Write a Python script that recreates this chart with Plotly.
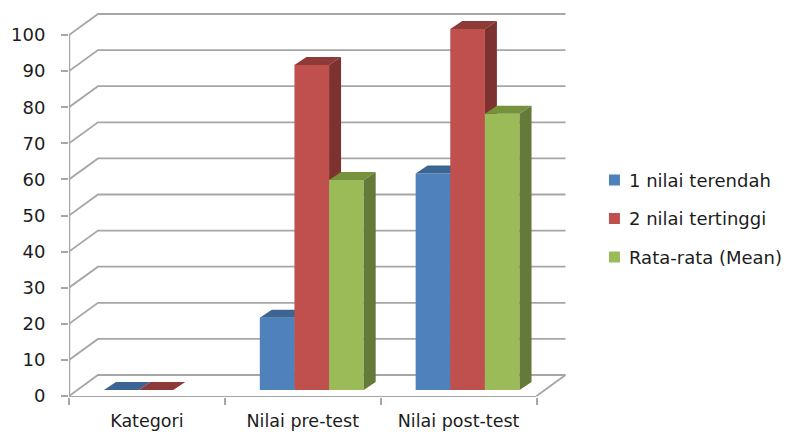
import plotly.graph_objects as go

# Chart data
categories = ["Kategori", "Nilai pre-test", "Nilai post-test"]
series_names = ["1 nilai terendah", "2 nilai tertinggi", "Rata-rata (Mean)"]
nilai_terendah = [0, 20, 60]
nilai_tertinggi = [0, 90, 100]
rata_rata = [None, 58.2, 76.5]
y_ticks = list(range(0, 101, 10))

# Face colours: front, top and side of each column
FRONT = ["#4f81bd", "#c0504d", "#9bbb59"]
TOP = ["#3c6594", "#8e3a38", "#76923c"]
SIDE = ["#385d8a", "#7d3230", "#657a38"]
GRID = "#a6a6a6"
TEXT = "#1c1c1c"
FONT = "DejaVu Sans"

# Plot box and scale, in screen pixels per data unit
WIDTH, HEIGHT = 787, 432
LEFT, RIGHT, TOP_PX, BOTTOM = 68.5, 569.0, 13.0, 397.0
ZERO_PX = 396.0
PX_PER_CAT = 156.0
PX_PER_VAL = 3.61
X_RANGE = [-0.5, -0.5 + (RIGHT - LEFT) / PX_PER_CAT]
Y_RANGE = [(ZERO_PX - BOTTOM) / PX_PER_VAL, (ZERO_PX - TOP_PX) / PX_PER_VAL]


def dx(px):
    return px / PX_PER_CAT


def dy(px):
    return px / PX_PER_VAL


# Oblique projection of the chart box and columns
WALL_DX, WALL_DY = dx(29), dy(21)
BASE_DX, BASE_DY = dx(9), dy(6)
DEPTH_DX, DEPTH_DY = dx(12), dy(8)
BAR_W = 1 / 4.5
X_FRONT_END = 2.5

fig = go.Figure()


def add_line(xs, ys, width):
    fig.add_trace(go.Scatter(x=xs, y=ys, mode="lines", line=dict(color=GRID, width=width),
                             showlegend=False, hoverinfo="skip", cliponaxis=False))


# Back wall and side gridlines
for v in y_ticks:
    add_line([-0.5, -0.5 + WALL_DX, X_FRONT_END + WALL_DX], [v, v + WALL_DY, v + WALL_DY], 1.8)

# Floor edge at the right and the two front axis lines
add_line([X_FRONT_END, X_FRONT_END + WALL_DX], [0, WALL_DY], 1.8)
add_line([-0.5, X_FRONT_END], [Y_RANGE[0], Y_RANGE[0]], 2)
add_line([-0.5, -0.5], [Y_RANGE[0], 100], 2.4)

# One overlaid axis pair per series so that each series paints over the previous one
all_values = [nilai_terendah, nilai_tertinggi, rata_rata]
for s, values in enumerate(all_values):
    ax_id = s + 2
    xname, yname = f"x{ax_id}", f"y{ax_id}"
    fig.update_layout({
        f"xaxis{ax_id}": dict(overlaying="x", range=X_RANGE, visible=False, fixedrange=True),
        f"yaxis{ax_id}": dict(overlaying="y", range=Y_RANGE, visible=False, fixedrange=True),
    })
    xs = [i + BASE_DX + (s - 1) * BAR_W for i in range(len(categories))]
    fig.add_trace(go.Bar(
        x=xs, y=values, base=BASE_DY, width=BAR_W, name=series_names[s],
        marker=dict(color=FRONT[s], line=dict(width=0)),
        xaxis=xname, yaxis=yname, showlegend=False))
    for x0, v in zip(xs, values):
        if v is None:
            continue
        xl, xr = x0 - BAR_W / 2, x0 + BAR_W / 2
        y0, y1 = BASE_DY, BASE_DY + v
        # Top face
        fig.add_trace(go.Scatter(
            x=[xl, xr, xr + DEPTH_DX, xl + DEPTH_DX, xl],
            y=[y1, y1, y1 + DEPTH_DY, y1 + DEPTH_DY, y1],
            mode="lines", fill="toself", fillcolor=TOP[s], line=dict(width=0),
            xaxis=xname, yaxis=yname, showlegend=False, hoverinfo="skip"))
        # Right side face
        if v > 0:
            fig.add_trace(go.Scatter(
                x=[xr, xr + DEPTH_DX, xr + DEPTH_DX, xr, xr],
                y=[y0, y0 + DEPTH_DY, y1 + DEPTH_DY, y1, y0],
                mode="lines", fill="toself", fillcolor=SIDE[s], line=dict(width=0),
                xaxis=xname, yaxis=yname, showlegend=False, hoverinfo="skip"))

# Key on the right: square swatch and label for each series
LEGEND_ROWS = [180, 218.5, 257]
shapes, annotations = [], []
for name, colour, row in zip(series_names, FRONT, LEGEND_ROWS):
    shapes.append(dict(type="rect", xref="paper", yref="paper",
                       x0=(609 - LEFT) / (RIGHT - LEFT), x1=(620 - LEFT) / (RIGHT - LEFT),
                       y0=(BOTTOM - row - 5.5) / (BOTTOM - TOP_PX),
                       y1=(BOTTOM - row + 5.5) / (BOTTOM - TOP_PX),
                       fillcolor=colour, line=dict(width=0)))
    annotations.append(dict(text=name, xref="paper", yref="paper", showarrow=False,
                            x=(627 - LEFT) / (RIGHT - LEFT), xanchor="left",
                            y=(BOTTOM - row) / (BOTTOM - TOP_PX), yanchor="middle",
                            font=dict(size=18, family=FONT, color=TEXT)))

fig.update_layout(
    width=WIDTH, height=HEIGHT, autosize=False,
    margin=dict(l=LEFT, r=WIDTH - RIGHT, t=TOP_PX, b=HEIGHT - BOTTOM, pad=0, autoexpand=False),
    paper_bgcolor="white", plot_bgcolor="white",
    barmode="overlay", showlegend=False,
    shapes=shapes, annotations=annotations,
    font=dict(family=FONT, size=17, color=TEXT),
    xaxis=dict(
        range=X_RANGE, showgrid=False, zeroline=False, showline=False, fixedrange=True,
        automargin=False,
        tickmode="array", tickvals=[0, 1, 2], ticktext=categories,
        ticks="", ticklabelstandoff=11, tickfont=dict(size=17.5, family=FONT, color=TEXT),
        minor=dict(tickmode="array", tickvals=[-0.5, 0.5, 1.5, 2.5], ticks="outside",
                   ticklen=7, tickwidth=1.6, tickcolor=GRID, showgrid=False),
    ),
    yaxis=dict(
        range=Y_RANGE, showgrid=False, zeroline=False, showline=False, fixedrange=True,
        automargin=False,
        tickmode="array", tickvals=y_ticks, ticks="outside", ticklen=7, tickwidth=1.6,
        tickcolor=GRID, ticklabelstandoff=12, tickfont=dict(size=18, family=FONT, color=TEXT),
    ),
)

fig.write_html("out.html")
